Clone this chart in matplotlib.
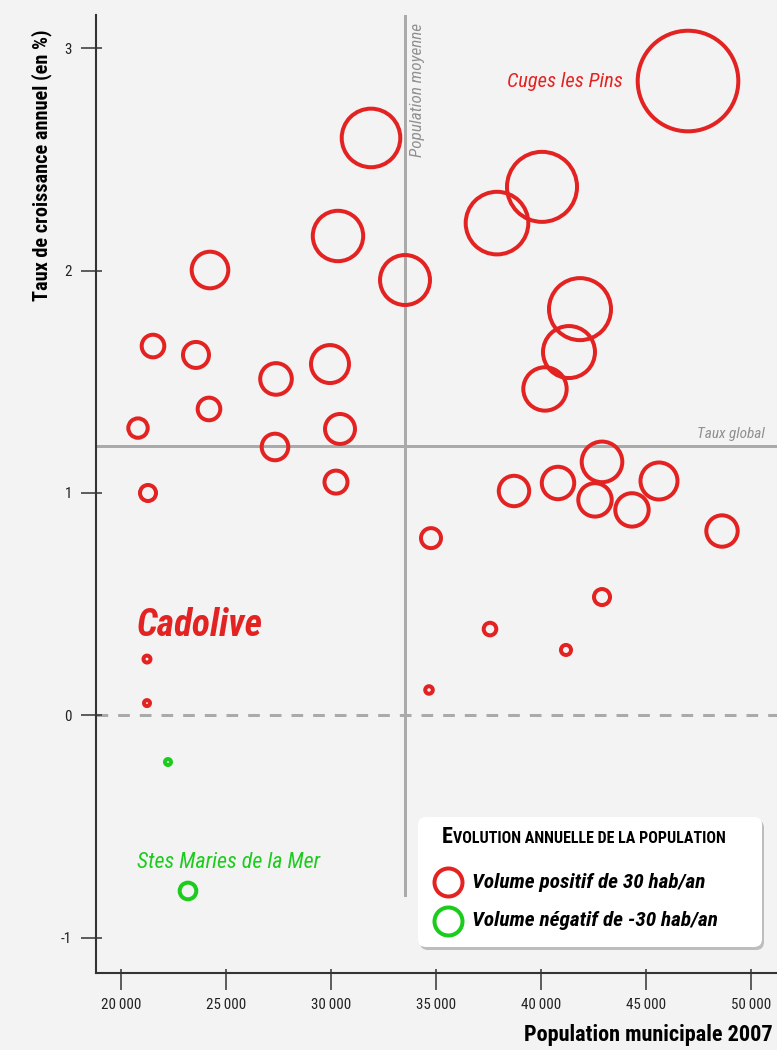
"""
Croissance annuelle des communes en fonction de la population municipale 2007.
"""

import matplotlib
matplotlib.use("Agg")
import matplotlib.pyplot as plt
import numpy as np
from matplotlib.patches import FancyBboxPatch
from matplotlib.lines import Line2D
from matplotlib.transforms import IdentityTransform

plt.rcParams["font.family"] = ["Roboto Condensed", "Liberation Sans Narrow",
                               "DejaVu Sans"]
plt.rcParams["font.stretch"] = "condensed"
plt.rcParams["lines.scale_dashes"] = False

# Population municipale 2007, taux de croissance annuel (%), volume (hab/an)
population = [47000, 31905, 40048, 37905, 30333, 33524, 24238, 41857, 41333,
              40190, 21524, 23571, 27381, 29952, 24190, 20810, 30429, 27333,
              21286, 30238, 42905, 45619, 40810, 38714, 42571, 44333, 48619,
              34762, 42905, 37571, 41190, 21238, 34667, 21238, 22238, 23190]
taux = [2.853, 2.597, 2.377, 2.214, 2.156, 1.958, 2.003, 1.827, 1.634,
        1.468, 1.661, 1.621, 1.513, 1.580, 1.378, 1.292, 1.288, 1.207,
        1.000, 1.049, 1.140, 1.054, 1.045, 1.009, 0.969, 0.924, 0.829,
        0.797, 0.532, 0.388, 0.294, 0.253, 0.114, 0.055, -0.210, -0.790]
volume = [1343, 782, 935, 836, 673, 667, 489, 828, 694,
          579, 302, 347, 422, 507, 302, 259, 400, 355,
          214, 307, 542, 494, 433, 406, 446, 446, 419,
          267, 214, 168, 134, 93, 101, 80, -80, -222]

population_moyenne = 33524
taux_global = 1.211

x_ticks = [20000, 25000, 30000, 35000, 40000, 45000, 50000]
y_ticks = [-1, 0, 1, 2, 3]

# (index, nom)
labels = [(0, "Cuges les Pins"), (31, "Cadolive"), (35, "Stes Maries de la Mer")]

red = "#e32322"
green = "#1ccc1c"
grey = "#aaaaaa"
bg = "#f3f3f3"

W, H = 777, 1050
dpi = 100


def fx(px):
    return px / W


def fy(py):
    return 1 - py / H


px2pt = 72 / dpi

fig = plt.figure(figsize=(W / dpi, H / dpi), dpi=dpi, facecolor=bg)
ax = fig.add_axes([fx(96), fy(973), fx(777) - fx(96), fy(15) - fy(973)])
ax.set_facecolor(bg)

ax.set_xlim(18810, 51238)
ax.set_ylim(-1.159, 3.150)

# lines of reference
ylo, yhi = ax.get_ylim()
ax.axvline(population_moyenne, ymin=(-0.808 - ylo) / (yhi - ylo), ymax=1,
           color=grey, lw=3 * px2pt, zorder=1)
ax.axhline(taux_global, color=grey, lw=3 * px2pt, zorder=1)
ax.axhline(0, color=grey, lw=3 * px2pt, linestyle=(0, (8.4, 7.2)), zorder=1)

# bubbles
population = np.array(population)
taux = np.array(taux)
volume = np.array(volume)
radius_px = np.abs(volume) / 26.7
sizes = (2 * radius_px * px2pt) ** 2
colors = [red if v > 0 else green for v in volume]
ax.scatter(population, taux, s=sizes, facecolors="none", edgecolors=colors,
           linewidths=4 * px2pt, zorder=3)

# annotations
i = labels[0][0]
ax.text(population[i] - 3100, taux[i], labels[0][1], color=red, style="italic",
        fontsize=14.8, ha="right", va="center")
ax.text(20762, 0.405, labels[1][1], color=red, style="italic", weight="bold",
        fontsize=27, ha="left", va="center")
ax.text(20762, -0.66, labels[2][1], color=green, style="italic",
        fontsize=15.8, ha="left", va="center")

ax.text(50667, taux_global + 0.036, "Taux global", color="#909090",
        style="italic", fontsize=11, ha="right", va="baseline")
ax.text(population_moyenne + 230, 3.115, "Population moyenne", color="#909090",
        style="italic", fontsize=12.3, rotation=90, ha="left", va="top")

# axes
for side in ["top", "right"]:
    ax.spines[side].set_visible(False)
for side in ["left", "bottom"]:
    ax.spines[side].set_color("#333333")
    ax.spines[side].set_linewidth(1.5)

ax.xaxis.remove_overlapping_locs = False
ax.yaxis.remove_overlapping_locs = False
ax.set_xticks(x_ticks)
ax.set_xticks(x_ticks, minor=True)
ax.set_xticklabels([f"{t:,}".replace(",", "\u2009") for t in x_ticks])
ax.set_yticks(y_ticks)
ax.set_yticks(y_ticks, minor=True)
ax.set_yticklabels([str(t) for t in y_ticks])

ax.tick_params(axis="x", which="major", direction="out", length=17 * px2pt,
               width=1.1, color="#333333", pad=5.8, labelsize=10.8,
               labelcolor="#222222")
ax.tick_params(axis="x", which="minor", direction="in", length=4 * px2pt,
               width=1.1, color="#333333")
ax.tick_params(axis="y", which="major", direction="out", length=15 * px2pt,
               width=1.1, color="#333333", pad=6.5, labelsize=10.8,
               labelcolor="#222222")
ax.tick_params(axis="y", which="minor", direction="in", length=6 * px2pt,
               width=1.1, color="#333333")

fig.text(fx(42), fy(165), "Taux de croissance annuel (en %)", rotation=90,
         weight="bold", fontsize=14.6, ha="center", va="center")
fig.text(fx(773), fy(1035), "Population municipale 2007", weight="bold",
         fontsize=16, ha="right", va="center")

# legend box
shadow = FancyBboxPatch((420, H - 950), 344, 130,
                        boxstyle="round,pad=0,rounding_size=8",
                        transform=IdentityTransform(), facecolor="#999999",
                        edgecolor="none", alpha=0.6, zorder=5)
box = FancyBboxPatch((418, H - 947), 344, 130,
                     boxstyle="round,pad=0,rounding_size=8",
                     transform=IdentityTransform(), facecolor="white",
                     edgecolor="none", zorder=6)
fig.add_artist(shadow)
fig.add_artist(box)

t1 = fig.text(fx(442), fy(843), "E", weight="bold", fontsize=16, va="baseline",
              zorder=7)
fig.canvas.draw()
ext = t1.get_window_extent()
fig.text(ext.x1 / W, fy(843), "VOLUTION ANNUELLE DE LA POPULATION",
         weight="bold", fontsize=11.5, va="baseline", zorder=7)

for py, col, txt in [(882, red, "Volume positif de 30 hab/an"),
                     (921, green, "Volume négatif de -30 hab/an")]:
    fig.add_artist(Line2D([fx(448)], [fy(py)], marker="o", markersize=28 * px2pt,
                          markerfacecolor="none", markeredgecolor=col,
                          markeredgewidth=4 * px2pt, transform=fig.transFigure,
                          zorder=7))
    fig.text(fx(472), fy(py), txt, weight="bold", style="italic", fontsize=15.3,
             va="center", zorder=7)

fig.savefig("out.png", dpi=dpi, facecolor=bg)
